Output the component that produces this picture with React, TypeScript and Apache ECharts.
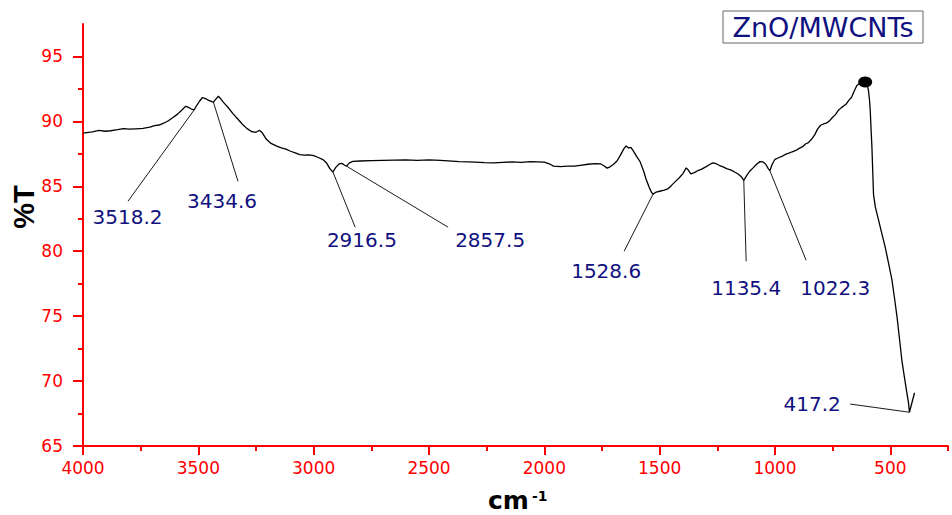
import React, { useEffect, useRef } from "react";
import * as echarts from "echarts";

// FT-IR spectrum of ZnO/MWCNTs: wavenumber (cm-1) against transmittance (%T)
const wavenumber = [
  4000, 3960, 3930, 3905, 3880, 3850, 3825, 3800, 3770, 3740, 3710, 3690, 3670, 3650, 3630, 3610,
  3590, 3570, 3555, 3545, 3530, 3518.2, 3508, 3495, 3482, 3470, 3455, 3442, 3434.6, 3425, 3413,
  3402, 3390, 3370, 3350, 3330, 3310, 3290, 3270, 3250, 3235, 3222, 3205, 3185, 3160, 3140, 3120,
  3100, 3080, 3060, 3040, 3020, 3000, 2980, 2960, 2945, 2930, 2916.5, 2905, 2890, 2876, 2866,
  2857.5, 2845, 2830, 2800, 2750, 2700, 2650, 2600, 2550, 2500, 2450, 2400, 2370, 2330, 2300,
  2260, 2220, 2180, 2140, 2100, 2060, 2030, 2000, 1975, 1960, 1930, 1900, 1870, 1845, 1810, 1780,
  1755, 1740, 1728, 1715, 1700, 1685, 1670, 1655, 1645, 1635, 1625, 1615, 1600, 1585, 1570, 1558,
  1545, 1535, 1528.6, 1515, 1500, 1480, 1465, 1450, 1430, 1415, 1400, 1385, 1378, 1365, 1350,
  1335, 1320, 1300, 1285, 1270, 1255, 1240, 1225, 1210, 1190, 1175, 1160, 1146, 1135.4, 1125,
  1110, 1095, 1080, 1065, 1052, 1040, 1030, 1022.3, 1012, 1000, 985, 970, 955, 940, 925, 910, 895,
  880, 868, 855, 842, 828, 815, 802, 790, 778, 765, 750, 738, 725, 712, 700, 690, 680, 668, 655,
  645, 632, 620, 609, 602, 595, 590, 587, 583, 580, 576, 573, 565, 551, 536, 522, 508, 493, 482,
  471, 460, 450, 439, 428, 421, 417.2, 395,
];

const transmittance = [
  89.1, 89.2, 89.3, 89.24, 89.28, 89.36, 89.45, 89.4, 89.43, 89.46, 89.55, 89.68, 89.72, 89.86,
  90.05, 90.3, 90.56, 90.9, 91.16, 91.1, 90.95, 90.88, 91.2, 91.55, 91.84, 91.76, 91.62, 91.52,
  91.48, 91.7, 91.94, 91.72, 91.45, 91.05, 90.6, 90.2, 89.8, 89.46, 89.22, 89.16, 89.32, 89.1,
  88.62, 88.3, 88.1, 87.96, 87.86, 87.7, 87.58, 87.44, 87.4, 87.42, 87.36, 87.22, 87.06, 86.82,
  86.36, 86.1, 86.44, 86.72, 86.76, 86.62, 86.55, 86.8, 86.92, 86.95, 86.98, 87.0, 87.02, 87.03,
  87.0, 87.03, 87.0, 86.94, 86.9, 86.88, 86.86, 86.82, 86.8, 86.85, 86.88, 86.85, 86.9, 86.88,
  86.86, 86.7, 86.56, 86.52, 86.55, 86.55, 86.62, 86.7, 86.75, 86.72, 86.56, 86.4, 86.5, 86.7,
  86.95, 87.4, 87.9, 88.1, 87.95, 88.0, 87.75, 87.3, 86.9, 86.2, 85.5, 84.9, 84.52, 84.4, 84.56,
  84.62, 84.7, 84.8, 85.05, 85.4, 85.66, 85.96, 86.42, 86.3, 85.96, 86.05, 86.2, 86.3, 86.5,
  86.66, 86.8, 86.74, 86.6, 86.5, 86.36, 86.25, 86.1, 85.95, 85.74, 85.45, 85.76, 86.16, 86.42,
  86.7, 86.9, 86.88, 86.7, 86.38, 86.2, 86.7, 87.08, 87.2, 87.3, 87.46, 87.55, 87.66, 87.76,
  87.92, 88.05, 88.26, 88.36, 88.62, 88.96, 89.42, 89.7, 89.8, 89.86, 90.02, 90.32, 90.52, 90.86,
  91.06, 91.22, 91.36, 91.62, 91.86, 92.4, 92.76, 92.96, 93.0, 93.04, 92.95, 92.4, 91.6, 90.8,
  89.2, 88.1, 86.0, 84.4, 83.4, 82.4, 81.3, 80.3, 79.1, 77.8, 76.4, 74.95, 73.2, 71.6, 70.3,
  69.05, 68.3, 67.6, 69.1,
];

// Labelled band positions (cm-1)
const peakLabels = ["3518.2", "3434.6", "2916.5", "2857.5", "1528.6", "1135.4", "1022.3", "417.2"];
const peakWavenumbers = [3518.2, 3434.6, 2916.5, 2857.5, 1528.6, 1135.4, 1022.3, 417.2];

// Highlighted maximum before the Zn–O band
const markerWavenumber = [609];

// Tick values
const majorXTicks = [4000, 3500, 3000, 2500, 2000, 1500, 1000, 500];
const minorXTicks = [3750, 3250, 2750, 2250, 1750, 1250, 750, 250];
const majorYTicks = [65, 70, 75, 80, 85, 90, 95];
const minorYTicks = [67.5, 72.5, 77.5, 82.5, 87.5, 92.5];

// Where each callout's text sits and where its leader line starts, in data units
const calloutPlacement = [
  { text: [3807, 82.6], from: [3805, 83.85] },
  { text: [3397, 83.85], from: [3328, 85.38] },
  { text: [2791, 80.85], from: [2820, 81.85] },
  { text: [2235, 80.85], from: [2417, 81.85] },
  { text: [1732, 78.46], from: [1654, 80.0] },
  { text: [1125, 77.15], from: [1125, 79.23] },
  { text: [739, 77.15], from: [865, 79.3] },
  { text: [839, 68.23], from: [674, 68.23] },
];

const RED = "#ff0000";
const NAVY = "#101080";
const NUM_FONT = "'DejaVu Sans', sans-serif";

function valueAt(x: number): number {
  const i = wavenumber.indexOf(x);
  return transmittance[i];
}

const plain = (v: number) => String(v);

export default function App() {
  const ref = useRef<HTMLDivElement>(null);

  useEffect(() => {
    if (!ref.current) return;
    const chart = echarts.init(ref.current, undefined, { renderer: "svg" });

    const spectrum = wavenumber.map((w, i) => [w, transmittance[i]]);

    const leaderLines = peakWavenumbers.map((w, i) => [
      { coord: calloutPlacement[i].from },
      { coord: [w, valueAt(w)] },
    ]);

    const calloutTexts = peakLabels.map((name, i) => ({
      name,
      value: calloutPlacement[i].text,
    }));

    const xBase = {
      type: "value" as const,
      min: 250,
      max: 4000,
      inverse: true,
      position: "bottom" as const,
      splitLine: { show: false },
    };
    const yBase = {
      type: "value" as const,
      min: 65,
      max: 97.5,
      position: "left" as const,
      splitLine: { show: false },
    };

    chart.setOption({
      animation: false,
      grid: { left: 83, right: 4, top: 24, bottom: 69, containLabel: false },
      xAxis: [
        {
          ...xBase,
          axisLine: { show: true, onZero: false, lineStyle: { color: RED, width: 2 } },
          axisTick: {
            show: true,
            length: 9,
            customValues: majorXTicks,
            lineStyle: { color: RED, width: 2 },
          },
          axisLabel: {
            show: true,
            customValues: majorXTicks,
            formatter: plain,
            color: RED,
            fontSize: 17,
            fontFamily: NUM_FONT,
            margin: 13,
          },
        },
        {
          ...xBase,
          axisLine: { show: false, onZero: false },
          axisTick: {
            show: true,
            length: 5,
            customValues: minorXTicks,
            lineStyle: { color: RED, width: 2 },
          },
          axisLabel: { show: false },
        },
      ],
      yAxis: [
        {
          ...yBase,
          axisLine: { show: true, onZero: false, lineStyle: { color: RED, width: 2 } },
          axisTick: {
            show: true,
            length: 10,
            customValues: majorYTicks,
            lineStyle: { color: RED, width: 2 },
          },
          axisLabel: {
            show: true,
            customValues: majorYTicks,
            formatter: plain,
            color: RED,
            fontSize: 17,
            fontFamily: NUM_FONT,
            margin: 20,
          },
        },
        {
          ...yBase,
          axisLine: { show: false, onZero: false },
          axisTick: {
            show: true,
            length: 5,
            customValues: minorYTicks,
            lineStyle: { color: RED, width: 2 },
          },
          axisLabel: { show: false },
        },
      ],
      series: [
        {
          name: "ZnO/MWCNTs",
          type: "line",
          xAxisIndex: 0,
          yAxisIndex: 0,
          data: spectrum,
          showSymbol: false,
          symbol: "none",
          lineStyle: { color: "#000", width: 1.3 },
          z: 3,
          markLine: {
            silent: true,
            symbol: ["none", "none"],
            label: { show: false },
            lineStyle: { color: "#000", width: 0.9, type: "solid" },
            data: leaderLines,
          },
        },
        {
          name: "peak marker",
          type: "scatter",
          xAxisIndex: 0,
          yAxisIndex: 0,
          data: markerWavenumber.map((w) => [w, valueAt(w)]),
          symbol: "circle",
          symbolSize: [14, 11],
          itemStyle: { color: "#000", opacity: 1 },
          z: 4,
        },
        {
          name: "band labels",
          type: "scatter",
          xAxisIndex: 0,
          yAxisIndex: 0,
          data: calloutTexts,
          symbol: "circle",
          symbolSize: 1,
          itemStyle: { color: "rgba(0,0,0,0)", opacity: 1 },
          label: {
            show: true,
            position: "inside",
            formatter: "{b}",
            color: NAVY,
            opacity: 1,
            fontSize: 20,
            fontFamily: NUM_FONT,
          },
          z: 5,
        },
      ],
      graphic: [
        {
          type: "rect",
          shape: { x: 723, y: 11, width: 200, height: 32 },
          style: { fill: "#fff", stroke: "#666", lineWidth: 1 },
          z: 10,
        },
        {
          type: "text",
          x: 823,
          y: 27,
          style: {
            text: "ZnO/MWCNTs",
            fill: NAVY,
            font: "27px 'DejaVu Sans', sans-serif",
            textAlign: "center",
            textVerticalAlign: "middle",
          },
          z: 11,
        },
        {
          type: "text",
          x: 24,
          y: 207,
          rotation: Math.PI / 2,
          style: {
            text: "%T",
            fill: "#000",
            font: "bold 29px 'Liberation Sans', Arial, sans-serif",
            textAlign: "center",
            textVerticalAlign: "middle",
          },
        },
        {
          type: "text",
          x: 488,
          y: 500,
          style: {
            text: "cm",
            fill: "#000",
            font: "bold 25px 'DejaVu Sans', sans-serif",
            textAlign: "left",
            textVerticalAlign: "middle",
          },
        },
        {
          type: "text",
          x: 532,
          y: 496,
          style: {
            text: "-1",
            fill: "#000",
            font: "bold 14px 'DejaVu Sans', sans-serif",
            textAlign: "left",
            textVerticalAlign: "middle",
          },
        },
      ],
    });

    return () => chart.dispose();
  }, []);

  return (
    <div
      ref={ref}
      style={{ position: "fixed", left: 0, top: 0, width: 952, height: 515, background: "#fff" }}
    />
  );
}
